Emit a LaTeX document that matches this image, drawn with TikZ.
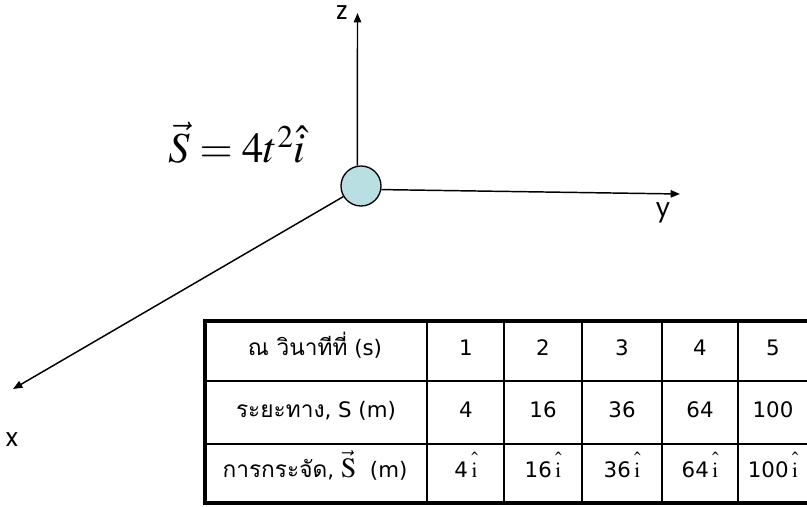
\documentclass[tikz,border=0pt]{standalone}
\usepackage{mathptmx}
\usepackage{fontspec}
\newfontfamily\thaifont[Script=Thai]{Loma}
\newfontfamily\cellfont{DejaVu Sans}
\newfontfamily\axisfont{Poppins}
\usetikzlibrary{
	arrows.meta,
	positioning
}
\definecolor{BallBlue}{RGB}{185,223,226}
\newcommand{\ihat}{$\hat{\mathrm{i}\rule{0pt}{0.95em}}$}

\begin{document}
\begin{tikzpicture}[x=0.75pt, y=-0.75pt,
		axis/.style={line width=1.1pt, -{Triangle[length=7pt,width=5.5pt]}},
		axlabel/.style={font=\axisfont\fontsize{19}{19}\selectfont, inner sep=0pt},
		cell/.style={font=\cellfont\fontsize{16}{16}\selectfont, inner sep=0pt, anchor=base}]
		\useasboundingbox (0,0) rectangle (807,507);
		\clip (0,0) rectangle (807,507);
		% particle and axes
		\node[circle, draw, line width=1pt, fill=BallBlue, minimum size=30pt, inner sep=0pt] (ball) at (361,186) {};
		\coordinate (ztip) at (357.5,13);
		\coordinate (ytip) at (680,194);
		\coordinate (xtip) at (13,389);
		\draw[axis] (ball.100) -- (ztip);
		\draw[axis] (ball.-10) -- (ytip);
		\draw[axis] (ball.211) -- (xtip);
		\node[axlabel] (zlab) at (342,13) {z};
		\node[axlabel] (ylab) at (663,213) {y};
		\node[axlabel] (xlab) at (12,440) {x};
		\node (eqn) at (237,143) {\fontsize{32}{32}\selectfont $\vec{S} = 4t^{2}\hat{i}$};
		% table
		\foreach \y in {381,444}
			\draw[line width=1.6pt] (205,\y) -- (815,\y);
		\foreach \x in {427,504,582,662,738}
			\draw[line width=1.6pt] (\x,321) -- (\x,503);
		\draw[line width=2.5pt] (205,321) rectangle (815,503);
		\node[cell] (hT) at (315,355) {{\thaifont\fontsize{17}{17}\selectfont ณ วินาทีที่} (s)};
		\node[cell] (hS) at (316,417) {{\thaifont\fontsize{17}{17}\selectfont ระยะทาง}, S (m)};
		\node[cell] (hD) at (315,477) {{\thaifont\fontsize{17}{17}\selectfont การกระจัด}, {\fontsize{21}{21}\selectfont$\vec{\mathrm{S}}$}~~(m)};
		\foreach \x/\t/\s [count=\i] in {466/1/4, 543/2/16, 622/3/36, 700/4/64, 773/5/100} {
			\node[cell] (t\i) at (\x,355) {\t};
			\node[cell] (s\i) at (\x,417) {\s};
			\node[cell] (d\i) at (\x,477) {\s\,\ihat};
		}
	\end{tikzpicture}
\end{document}
